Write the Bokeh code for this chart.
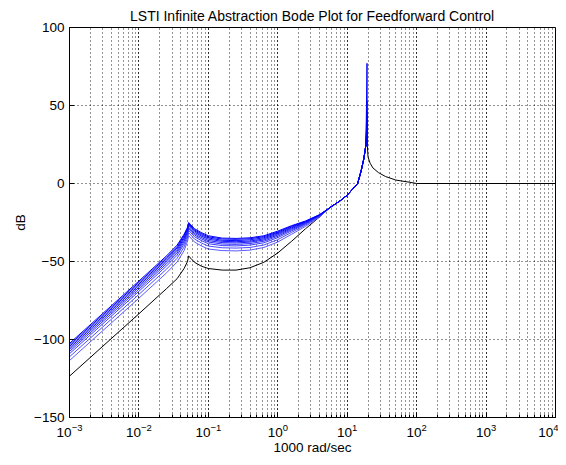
from bokeh.plotting import figure
from bokeh.models import Range1d, FixedTicker
from bokeh.embed import file_html
from bokeh.resources import INLINE

# frequency (x1000 rad/sec)
freq = [0.001, 0.01, 0.0251, 0.0355, 0.0447, 0.0501, 0.0519, 0.0562, 0.0631, 0.0794,
        0.1, 0.158, 0.251, 0.398, 0.631, 1.0, 1.585, 2.512, 3.981, 5.623,
        7.943, 10.0, 12.59, 14.13, 15.85, 17.38, 18.62, 19.28, 19.5, 19.95,
        21.38, 23.44, 28.18, 35.48, 50.12, 79.43, 100.0, 10000.0]

black_db = [-123.5, -83.5, -67.3, -61.0, -54.5, -50.0, -46.5, -48.0, -50.5, -53.0,
            -54.5, -55.5, -55.5, -54.0, -50.5, -44.5, -37.0, -29.0, -21.5, -15.5,
            -11.0, -7.5, -2.5, 0.0, 8.0, 16.0, 25.0, 36.0, 24.0, 17.0,
            13.0, 10.0, 7.0, 4.5, 2.2, 0.8, 0.0, 0.0]

blue_1 = [-102.5, -62.5, -46.3, -39.5, -32.5, -28.0, -25.0, -26.5, -29.0, -31.5, -33.5, -35.0, -35.2, -34.8, -33.5, -30.5, -27.0, -24.0, -20.0, -15.5, -11.0, -7.5, -2.5, 0.0, 8.0, 16.0, 25.0, 77.0, 24.0]
blue_2 = [-103.4, -63.4, -47.2, -40.4, -33.3, -28.7, -25.7, -27.2, -29.7, -32.2, -34.2, -35.6, -35.8, -35.4, -34.1, -31.1, -27.4, -24.3, -20.1, -15.5, -11.0, -7.5, -2.5, 0.0, 8.0, 16.0, 25.0, 53.0, 24.0]
blue_3 = [-104.4, -64.4, -48.2, -41.3, -34.3, -29.5, -26.4, -27.9, -30.4, -32.9, -34.9, -36.4, -36.6, -36.1, -34.8, -31.7, -27.9, -24.6, -20.3, -15.5, -11.0, -7.5, -2.5, 0.0, 8.0, 16.0, 25.0, 46.0, 24.0]
blue_4 = [-105.4, -65.4, -49.1, -42.3, -35.2, -30.3, -27.2, -28.7, -31.2, -33.7, -35.7, -37.1, -37.3, -36.9, -35.5, -32.3, -28.4, -24.9, -20.4, -15.5, -11.0, -7.5, -2.5, 0.0, 8.0, 16.0, 25.0, 42.0, 24.0]
blue_5 = [-106.5, -66.5, -50.2, -43.4, -36.3, -31.2, -28.1, -29.6, -32.1, -34.6, -36.6, -37.9, -38.1, -37.6, -36.2, -33.0, -29.0, -25.3, -20.5, -15.5, -11.0, -7.5, -2.5, 0.0, 8.0, 16.0, 25.0, 40.0, 24.0]
blue_6 = [-107.7, -67.7, -51.4, -44.6, -37.4, -32.2, -29.0, -30.5, -33.0, -35.5, -37.5, -38.8, -39.0, -38.5, -37.0, -33.8, -29.6, -25.7, -20.7, -15.5, -11.0, -7.5, -2.5, 0.0, 8.0, 16.0, 25.0, 38.0, 24.0]
blue_7 = [-109.1, -69.1, -52.8, -46.0, -38.8, -33.4, -30.1, -31.6, -34.1, -36.6, -38.6, -39.8, -40.0, -39.5, -38.0, -34.7, -30.3, -26.1, -20.9, -15.5, -11.0, -7.5, -2.5, 0.0, 8.0, 16.0, 25.0, 37.0, 24.0]
blue_8 = [-111.1, -71.1, -54.8, -47.9, -40.7, -35.0, -31.6, -33.1, -35.6, -38.1, -40.1, -41.2, -41.4, -41.0, -39.4, -36.0, -31.3, -26.7, -21.2, -15.5, -11.0, -7.5, -2.5, 0.0, 8.0, 16.0, 25.0, 36.0, 24.0]
blue_9 = [-113.5, -73.5, -57.2, -50.3, -43.0, -37.0, -33.5, -35.0, -37.5, -40.0, -42.0, -43.0, -43.2, -42.7, -41.0, -37.5, -32.5, -27.5, -21.5, -15.5, -11.0, -7.5, -2.5, 0.0, 8.0, 16.0, 25.0, 35.0, 24.0]

blue_series = [blue_9, blue_8, blue_7, blue_6, blue_5, blue_4, blue_3, blue_2, blue_1]
blue_colors = ["#5a5aff", "#4c4cff", "#3c3cff", "#2e2eff", "#2020ff", "#1414ff", "#0808ff", "#0000ff", "#0000ff"]

y_ticks = [-150, -100, -50, 0, 50, 100]

FONT = "Liberation Sans"

p = figure(width=558, height=457, x_axis_type="log",
           x_range=Range1d(1e-3, 1e4), y_range=Range1d(-150, 100),
           output_backend="svg", toolbar_location=None,
           min_border_left=69, min_border_right=3, min_border_top=27, min_border_bottom=40,
           title="LSTI Infinite Abstraction Bode Plot for Feedforward Control")

p.title.text_font = FONT
p.title.text_font_size = "14px"
p.title.text_font_style = "normal"
p.title.align = "center"
p.title.text_color = "#000000"
p.title.offset = 0
p.title.standoff = 7

p.background_fill_color = "white"
p.border_fill_color = "white"
p.outline_line_color = "#000000"
p.outline_line_width = 1

p.yaxis.ticker = FixedTicker(ticks=y_ticks)

for ax in (p.xaxis, p.yaxis):
    ax.axis_line_color = "#000000"
    ax.major_tick_in = 5
    ax.major_tick_out = 0
    ax.major_tick_line_color = "#000000"
    ax.major_label_text_font = FONT
    ax.major_label_text_font_size = "13.5px"
    ax.major_label_text_color = "#000000"
    ax.axis_label_text_font = FONT
    ax.axis_label_text_font_size = "13.5px"
    ax.axis_label_text_font_style = "normal"
    ax.axis_label_text_color = "#000000"

p.xaxis.minor_tick_in = 3
p.xaxis.minor_tick_out = 0
p.xaxis.minor_tick_line_color = "#000000"
p.yaxis.minor_tick_line_color = None

p.xaxis.axis_label = "1000 rad/sec"
p.yaxis.axis_label = "dB"
p.xaxis.major_label_standoff = 6
p.yaxis.major_label_standoff = 5
p.xaxis.axis_label_standoff = 0
p.yaxis.axis_label_standoff = 3

p.xgrid.grid_line_color = "#000000"
p.xgrid.grid_line_dash = "1 3"
p.xgrid.grid_line_alpha = 0.85
p.xgrid.minor_grid_line_color = "#000000"
p.xgrid.minor_grid_line_dash = "1 3"
p.xgrid.minor_grid_line_alpha = 0.85
p.ygrid.grid_line_color = "#000000"
p.ygrid.grid_line_dash = "1 3"
p.ygrid.grid_line_alpha = 0.85

p.line(freq, black_db, line_color="#000000", line_width=1)
for series, color in zip(blue_series, blue_colors):
    p.line(freq[:len(series)], series, line_color=color, line_width=1)

open("out.html", "w").write(file_html(p, INLINE))
